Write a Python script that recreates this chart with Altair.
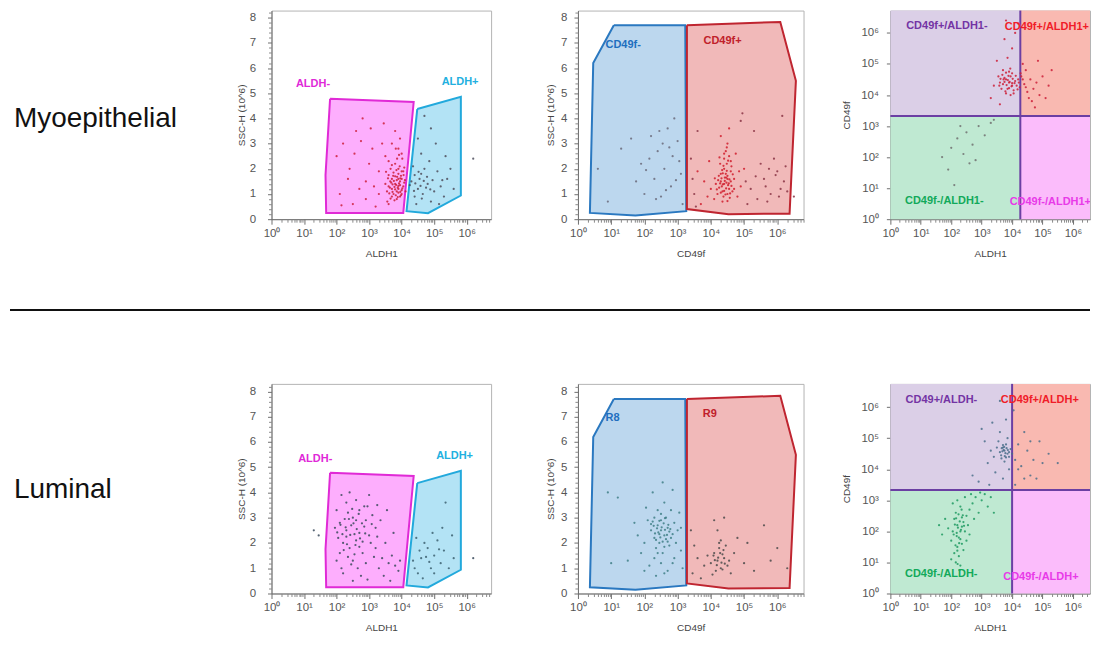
import altair as alt
import pandas as pd

FONT = "Liberation Sans"
FONT2 = "Liberation Sans"

row_labels = ["Myoepithelial", "Luminal"]

log_ticks = [1, 10, 100, 1000, 10000, 100000, 1000000]
lin_ticks = [0, 1, 2, 3, 4, 5, 6, 7, 8]
log_minor = [m * 10 ** k for k in range(7) for m in range(2, 10)]
lin_minor = [round(v * 0.2, 1) for v in range(42) if v % 5]
SUP = "['\u2070','\u00b9','\u00b2','\u00b3','\u2074','\u2075','\u2076','\u2077']"
LOG_LABEL = "'10' + " + SUP + "[round(log(datum.value) / LN10)]"

# ---------------- gates (x = log10 of intensity, y = SSC-H 10^6) -------------
gate_aldh_neg = [(1.80, 4.78), (4.37, 4.65), (4.05, 0.25), (1.68, 0.25), (1.66, 1.75), (1.80, 4.78)]
gate_aldh_pos = [(4.48, 4.37), (5.82, 4.86), (5.82, 0.94), (4.81, 0.24), (4.15, 0.32), (4.48, 4.37)]
gate_cd_neg = [(1.08, 7.70), (3.23, 7.70), (3.26, 0.32), (1.73, 0.15), (0.36, 0.25), (0.46, 6.20), (1.08, 7.70)]
gate_cd_pos = [(3.28, 7.70), (6.09, 7.83), (6.56, 5.49), (6.37, 0.22), (4.53, 0.20), (3.28, 0.40), (3.28, 7.70)]

# quadrant thresholds (log10 ALDH1, log10 CD49f)
quad_thr_top = (4.27, 3.32)
quad_thr_bottom = (4.00, 3.33)
quad_names = ["TL", "TR", "BL", "BR"]
quad_fill = ["#dbcfe7", "#f9b9b1", "#bfe9d2", "#fbbcfb"]

# ---------------- events (x = log10, y = SSC or log10 CD49f) ----------------
p1_top_red = [(3.9,1.2),(3.95,1.5),(3.8,1.4),(4.0,1.0),(3.85,1.1),(3.7,1.6),(3.9,1.8),(4.05,1.3),(3.75,1.0),
    (3.6,1.3),(3.95,0.9),(3.8,1.7),(4.0,1.6),(3.65,1.5),(3.9,2.0),(3.7,1.2),(3.85,0.8),(4.05,1.9),(3.55,1.1),
    (3.95,1.35),(3.75,1.85),(3.85,1.55),(4.0,1.15),(3.7,0.9),(3.6,1.75),(3.9,1.05),(3.8,2.2),(4.08,1.45),
    (3.5,1.4),(3.88,1.25),(3.72,1.38),(3.98,1.72),(3.82,0.95),(3.66,2.0),(4.02,2.4),(3.9,2.8),(3.95,3.2),
    (3.8,3.5),(4.0,2.6),(2.1,1.0),(2.4,2.0),(2.6,3.5),(2.9,1.5),(3.1,2.8),(2.2,3.0),(3.3,1.0),(2.5,0.6),
    (3.0,2.2),(2.8,4.0),(3.4,3.0),(2.0,2.5),(3.2,0.5),(2.7,1.2),(3.5,2.5),(2.35,1.6),(3.05,3.6),(2.55,2.6),
    (3.3,1.9),(2.9,0.8),(3.6,0.6),(2.15,0.55),(3.45,3.8),(2.75,3.1),(3.15,1.3),
    (3.92,1.42),(3.78,1.28),(3.86,1.68),(4.02,1.22),(3.68,1.45),(3.96,1.08),(3.74,1.72),(3.9,1.6),(4.1,1.55),
    (3.62,1.02),(3.84,1.95),(3.98,0.95),(3.58,1.62),(3.88,0.88),(4.12,1.1),(3.7,2.15),(3.94,2.1),(3.8,1.18),
    (3.66,0.82),(4.06,1.75),(3.76,1.52),(3.9,1.32),(3.52,1.88),(3.83,1.36),(4.0,1.9),(3.72,1.08),(3.6,2.3),
    (3.96,1.62),(3.86,2.4),(3.78,0.75),(4.08,2.05),(3.64,1.25),(3.92,2.55),(3.82,2.8),(3.7,3.0),(3.56,0.7)]
p1_top_dark = [(4.3,1.5),(4.5,1.2),(4.6,1.8),(4.4,0.9),(4.8,1.4),(5.0,1.1),(4.7,2.0),(4.55,1.6),(4.9,0.7),
    (5.2,1.3),(5.4,1.6),(4.35,2.1),(4.65,1.0),(5.1,1.9),(4.45,0.6),(4.85,2.3),(5.3,0.9),(4.75,1.25),(4.4,1.75),
    (5.5,2.0),(4.6,2.6),(5.05,3.0),(4.9,3.6),(4.7,4.1),(5.35,2.5),(4.5,3.2),(5.6,1.2),(4.25,1.35),(4.95,1.55),
    (5.15,0.6),(6.2,2.4),(4.42,1.42),(4.58,1.32),(4.68,1.52),(4.52,1.88),(4.38,1.12),(4.78,1.68),(4.88,1.18),
    (5.25,1.55),(4.62,0.82)]

p2_top_gray = [(0.6,2.0),(0.9,0.7),(1.3,2.8),(1.9,2.2),(2.0,1.0),(2.2,3.3),(2.3,1.6),(2.4,2.7),(2.5,0.9),
    (2.6,2.0),(2.7,3.6),(2.8,1.3),(2.85,2.5),(2.9,4.0),(3.0,3.1),(3.1,1.8),(2.45,3.5),(2.15,2.4),(2.65,1.15),
    (2.75,2.85),(2.35,0.8),(3.05,2.3),(1.75,1.5),(2.55,3.0),(3.15,0.6),(2.95,1.55),(2.05,1.95),(1.6,3.2)]
p2_top_red = [(4.4,1.4),(4.5,1.6),(4.35,1.1),(4.45,1.8),(4.55,1.2),(4.3,1.5),(4.6,1.5),(4.4,2.0),(4.5,1.0),
    (4.25,1.25),(4.42,1.65),(4.52,1.35),(4.38,0.9),(4.48,2.2),(4.6,1.9),(4.3,1.8),(4.2,1.0),(4.55,2.5),
    (4.45,2.7),(4.65,1.1),(4.35,0.7),(4.15,1.4),(4.7,1.6),(4.5,3.0),(4.4,2.4),(4.1,0.8),(4.0,1.2),(4.62,2.1),
    (4.28,2.2),(4.47,1.45),(4.33,1.3),(4.57,0.85),(3.9,0.9),(3.8,1.5),(3.7,0.6),(4.8,0.9),(4.9,1.3),(5.0,2.0),
    (3.6,1.9),(4.75,2.6),(4.55,3.6),(4.3,3.3),(3.95,2.3),(4.85,1.9),
    (4.42,1.52),(4.36,1.38),(4.5,1.72),(4.46,1.22),(4.32,1.62),(4.56,1.58),(4.4,1.12),(4.48,1.92),(4.28,1.42),
    (4.62,1.32),(4.38,2.12),(4.52,2.32),(4.44,0.98),(4.24,1.72),(4.58,1.02),(4.34,1.95),(4.66,1.78),
    (4.18,1.18),(4.48,2.85),(4.4,2.6),(4.54,1.42),(4.3,1.05),(4.46,1.65),(4.36,1.82),(4.6,2.3),(4.22,1.55),
    (4.5,0.72),(4.12,1.62),(4.7,1.2),(4.26,2.45)]
p2_top_dark = [(3.5,1.0),(3.4,2.4),(3.6,3.5),(5.2,1.2),(5.4,0.8),(5.6,1.6),(5.8,1.0),(6.0,1.9),(6.1,1.2),
    (5.9,2.4),(5.5,2.2),(5.3,3.5),(5.7,0.7),(6.2,1.5),(5.1,0.6),(4.9,3.9),(5.95,1.75),(6.05,0.9),(5.65,1.3),
    (5.35,1.7),(6.3,1.1),(3.45,1.6),(5.75,2.0),(6.25,2.1),(4.95,4.2),(6.15,4.1),(3.55,0.5),(5.05,1.5),(6.5,0.9)]

p3_top_red = [(3.9,4.4),(3.8,4.5),(4.0,4.3),(3.7,4.35),(3.95,4.6),(3.85,4.2),(4.1,4.45),(3.75,4.55),
    (4.05,4.15),(3.6,4.4),(3.9,4.75),(4.15,4.3),(3.65,4.2),(3.8,4.05),(4.0,4.7),(3.55,4.6),(4.2,4.5),(3.7,4.8),
    (3.95,4.0),(4.25,4.25),(4.3,4.6),(4.4,4.35),(4.5,4.1),(4.6,4.5),(4.7,4.2),(4.55,3.9),(4.8,4.4),(4.9,4.0),
    (5.0,4.6),(5.2,4.3),(4.45,4.8),(4.65,3.8),(5.1,3.9),(4.35,5.0),(3.85,5.2),(4.0,5.5),(3.75,5.8),(4.1,6.0),
    (3.5,5.1),(3.4,4.3),(3.3,3.9),(4.85,5.1),(5.3,4.8),(4.75,3.6),(3.6,3.7),(3.8,6.4),(4.2,6.3),
    (3.92,4.42),(3.82,4.32),(4.02,4.52),(3.72,4.5),(3.88,4.62),(3.98,4.28),(4.12,4.62),(3.78,4.12),(4.08,4.38),
    (3.62,4.52),(3.86,4.48),(4.18,4.18),(3.68,4.65),(3.94,4.85),(4.22,4.4),(3.58,4.3),(4.28,4.7),(3.8,4.72),
    (4.05,4.05),(3.75,4.42),(4.35,4.5),(4.45,4.25),(3.9,4.22),(4.0,4.38)]
p3_top_gray = [(2.0,2.3),(2.2,2.6),(2.4,2.1),(2.5,2.8),(2.7,2.4),(2.9,3.0),(3.1,2.7),(3.3,3.1),(2.6,1.8),
    (1.9,1.6),(2.3,3.0),(2.8,1.9),(3.4,3.2),(1.7,2.0),(2.1,1.1)]

p1_bot_neg = [(2.1,2.8),(2.3,2.5),(2.5,3.0),(2.2,2.0),(2.7,2.4),(2.4,1.8),(2.9,2.9),(2.6,2.1),(2.0,3.3),
    (2.8,1.6),(3.0,2.3),(2.3,3.6),(2.5,1.3),(2.15,1.0),(3.2,2.6),(2.7,3.3),(3.4,1.4),(2.45,2.7),(2.05,2.2),
    (2.9,1.2),(3.1,3.1),(2.35,1.45),(3.5,2.0),(2.6,3.7),(2.2,0.8),(3.3,1.0),(2.75,0.7),(3.6,1.2),(3.8,1.1),
    (3.9,0.9),(3.7,1.5),(3.2,1.8),(2.55,2.35),(2.85,2.65),(2.1,1.6),(2.4,4.0),(3.0,3.9),(2.65,1.0),(3.35,2.9),
    (2.0,1.3),(3.55,3.3),(2.95,0.55),(2.25,2.95),(2.5,0.5),(3.15,1.45),(2.8,2.05),(3.75,2.4),(2.3,2.25),
    (2.6,2.9),(3.45,0.7),(3.95,1.3),(2.7,1.85),(2.15,3.9),(3.05,2.0),(2.45,1.15),(1.95,2.6),(3.25,3.5),
    (2.85,3.45),(2.35,3.2),(3.65,0.5),(1.3,2.5),(1.45,2.3),(6.2,1.4),
    (2.28,2.62),(2.52,2.78),(2.42,2.32),(2.62,2.55),(2.18,2.35),(2.72,2.18),(2.38,2.95),(2.58,1.92),
    (2.88,2.38),(2.12,2.72),(2.48,3.35),(2.78,2.78),(2.32,1.95),(2.68,3.15),(2.22,1.72),(3.08,2.75),
    (2.95,3.45),(2.55,1.55),(3.25,2.25),(2.02,2.42)]
p1_bot_pos = [(4.4,1.0),(4.6,1.4),(4.8,1.8),(5.0,1.5),(4.5,0.8),(5.2,1.2),(4.9,1.0),(4.7,2.0),(5.3,1.7),
    (4.35,1.3),(5.1,2.1),(4.65,0.6),(5.45,1.0),(4.85,1.25),(5.55,2.3),(4.55,1.7),(5.0,0.8),(5.25,2.6),
    (4.45,2.2),(5.35,3.6),(4.75,1.45),(5.15,1.75),(4.95,2.4),(5.6,1.4)]

p2_bot_neg = [(2.5,2.5),(2.4,2.7),(2.6,2.3),(2.3,2.2),(2.7,2.6),(2.5,2.9),(2.2,2.5),(2.8,2.2),(2.45,2.0),
    (2.65,3.0),(2.35,1.8),(2.55,1.6),(2.9,2.8),(2.1,2.9),(2.75,1.9),(2.0,2.0),(3.0,2.5),(2.4,3.3),(2.6,3.6),
    (2.3,1.4),(2.8,3.3),(2.15,1.1),(2.5,1.2),(2.7,0.9),(1.9,1.6),(2.05,3.4),(3.1,1.7),(2.95,2.0),(2.25,4.0),
    (2.55,4.4),(2.85,4.1),(1.8,2.3),(3.05,3.2),(2.35,0.7),(2.6,0.8),(1.5,1.3),(1.2,3.8),(1.0,1.2),(0.9,4.0),
    (3.15,1.0),(2.45,2.35),(2.65,2.15),(2.2,2.75),(2.75,2.45),(2.4,1.6),(2.9,1.4),(1.7,2.8),(3.1,2.6),
    (2.0,0.9),(2.3,3.0),(2.85,1.2),
    (2.52,2.62),(2.42,2.42),(2.62,2.52),(2.38,2.58),(2.58,2.78),(2.48,2.22),(2.72,2.72),(2.32,2.38),
    (2.68,2.32),(2.55,2.05),(2.45,2.88),(2.78,2.55),(2.28,2.68),(2.62,2.98),(2.35,2.12),(2.85,2.35),
    (2.5,3.15),(2.7,2.05),(2.25,2.85),(2.6,1.85)]
p2_bot_pos = [(4.2,1.3),(4.3,1.0),(4.1,1.6),(4.4,1.4),(4.25,1.8),(4.5,1.1),(4.0,1.2),(4.35,1.55),(4.15,0.9),
    (4.45,1.9),(3.9,1.5),(4.55,1.3),(4.05,0.75),(4.3,2.1),(3.8,1.1),(4.6,0.8),(3.7,0.6),(3.6,1.4),(4.7,1.6),
    (4.2,2.5),(4.4,3.0),(3.5,1.9),(5.0,1.2),(5.3,0.9),(5.6,2.7),(5.8,1.3),(6.3,1.0),(4.8,2.2),(3.45,0.8),
    (4.1,2.9),(5.1,2.0),(6.0,1.8),(3.4,2.5),(4.22,1.42),(4.32,1.22),(4.12,1.32),(4.38,1.72),(4.28,1.6),
    (4.18,1.12),(4.42,1.18),(4.08,1.5),(4.35,0.95),(4.25,2.0)]

p3_bot_tl = [(3.75,4.6),(3.7,4.7),(3.85,4.5),(3.6,4.55),(3.8,4.8),(3.9,4.4),(3.65,4.35),(3.95,4.65),(3.5,4.7),
    (3.75,4.25),(4.0,4.5),(3.55,4.9),(3.4,4.4),(3.85,5.0),(4.1,4.3),(3.3,4.6),(3.6,5.2),(3.9,4.0),(4.2,4.8),
    (3.2,4.2),(3.45,3.9),(3.7,3.7),(3.1,4.9),(3.0,5.3),(3.35,5.5),(3.8,5.6),(4.05,5.9),(3.6,6.2),(2.9,3.6),
    (4.3,4.1),(4.5,4.6),(4.7,4.3),(4.6,3.8),(4.9,4.9),(5.2,4.5),(4.4,5.2),(4.8,3.7),(5.5,4.2),(3.25,3.5),
    (2.7,3.8),(4.2,4.0),(4.4,3.7),(4.6,4.9),(4.1,3.5),(5.0,4.2),
    (3.72,4.62),(3.78,4.52),(3.82,4.68),(3.68,4.58),(3.76,4.42),(3.86,4.62),(3.7,4.78),(3.64,4.45),
    (3.8,4.38),(3.74,4.72),(3.9,4.55),(3.66,4.68)]
p3_bot_bl = [(2.2,2.2),(2.3,2.0),(2.1,2.4),(2.25,1.8),(2.4,2.3),(2.15,2.6),(2.35,1.6),(2.05,2.0),(2.5,2.5),
    (2.2,1.5),(2.45,2.0),(2.3,2.8),(2.0,1.7),(2.6,2.7),(2.1,1.3),(2.25,1.2),(2.7,2.9),(2.8,3.1),(2.55,2.2),
    (2.35,2.45),(1.9,2.1),(1.8,2.4),(2.65,3.2),(2.9,2.6),(3.0,3.0),(3.1,3.2),(2.4,1.4),(2.15,1.0),(2.3,0.9),
    (1.7,1.9),(2.5,1.7),(2.75,2.4),(3.2,2.8),(3.3,3.1),(2.05,2.9),(2.6,1.9),(2.2,3.0),(3.4,2.6),(1.6,2.2),
    (2.45,3.1),(2.95,3.25),(2.0,1.1),(2.35,2.15),(2.18,1.95),
    (2.22,2.12),(2.28,2.32),(2.18,1.85),(2.32,2.05),(2.12,2.22),(2.26,1.62),(2.38,2.52),(2.16,2.42),
    (2.3,1.75),(2.24,2.55),(2.08,1.9),(2.42,2.18),(2.2,1.38),(2.34,2.7),(2.14,1.55),(2.27,0.75),(2.21,0.95)]

# gate / quadrant label texts: (text, log10 x, y, colour)
p1_top_text = [("ALDH-", 0.75, 5.35, "#e028d8"), ("ALDH+", 5.23, 5.43, "#22b0e0")]
p2_top_text = [("CD49f-", 0.83, 6.93, "#1f6fbf"), ("CD49f+", 3.78, 7.06, "#c0202a")]
p3_top_text = [("CD49f+/ALDH1-", 0.52, 6.22, "#7434a4"), ("CD49f+/ALDH1+", 3.76, 6.19, "#f01c28"),
               ("CD49f-/ALDH1-", 0.48, 0.59, "#12a95a"), ("CD49f-/ALDH1+", 3.92, 0.56, "#e83ae8")]
p1_bot_text = [("ALDH-", 0.82, 5.34, "#e028d8"), ("ALDH+", 5.06, 5.43, "#22b0e0")]
p2_bot_text = [("R8", 0.83, 6.95, "#1f6fbf"), ("R9", 3.76, 7.10, "#c0202a")]
p3_bot_text = [("CD49+/ALDH-", 0.50, 6.22, "#7434a4"), ("CD49f+/ALDH+", 3.63, 6.22, "#f01c28"),
               ("CD49f-/ALDH-", 0.48, 0.64, "#12a95a"), ("CD49f-/ALDH+", 3.71, 0.53, "#e83ae8")]

AX = dict(grid=False, domainColor="#6e6e6e", tickColor="#6e6e6e", labelColor="#555555",
          labelFont=FONT2, labelFontSize=11.5, titleFont=FONT2, titleFontSize=10,
          titleFontWeight="normal", titleColor="#444444", labelFlush=False, labelOverlap=False)


def x_major(title):
    return alt.Axis(values=log_ticks, labelExpr=LOG_LABEL, title=title, tickSize=5,
                    labelPadding=3, titlePadding=10, **AX)


def y_lin(title, lp, tp):
    return alt.Axis(values=lin_ticks, title=title, tickSize=4, labelPadding=lp, titlePadding=tp, **AX)


def y_log(title):
    return alt.Axis(values=log_ticks, labelExpr=LOG_LABEL, title=title, tickSize=4,
                    labelPadding=8, titlePadding=9, **AX)


def minor_axis(vals, orient):
    return alt.Axis(values=vals, labels=False, domain=False, tickSize=3, title=None, grid=False,
                    orient=orient, tickColor="#8a8a8a")


def pts_df(pts):
    return pd.DataFrame({"i": list(range(len(pts))), "lx": [p[0] for p in pts], "ly": [p[1] for p in pts]})


def txt_df(items):
    return pd.DataFrame({"t": [a[0] for a in items], "lx": [a[1] for a in items],
                         "ly": [a[2] for a in items], "c": [a[3] for a in items]})


def ssc_panel(width, height, xmax, ymax, xtitle, gates, points, texts, lp, tp):
    xs = alt.Scale(type="log", domain=[1, 10 ** xmax], nice=False)
    ys = alt.Scale(type="linear", domain=[0, ymax], nice=False, zero=False)
    layers = []
    for k, (g, fill, stroke) in enumerate(gates):
        layers.append(
            alt.Chart(pts_df(g)).mark_line(fill=fill, stroke=stroke, strokeWidth=2, strokeJoin="miter")
            .transform_calculate(x="pow(10, datum.lx)")
            .encode(x=alt.X("x:Q", scale=xs, axis=x_major(xtitle) if k == 0 else None),
                    y=alt.Y("ly:Q", scale=ys, axis=y_lin("SSC-H (10^6)", lp, tp) if k == 0 else None),
                    order="i:Q"))
    for p, col in points:
        layers.append(
            alt.Chart(pts_df(p)).mark_circle(size=5, opacity=0.85, color=col)
            .transform_calculate(x="pow(10, datum.lx)")
            .encode(x=alt.X("x:Q", scale=xs, axis=None), y=alt.Y("ly:Q", scale=ys, axis=None)))
    layers.append(
        alt.Chart(txt_df(texts)).mark_text(align="left", baseline="middle", font=FONT, fontSize=11,
                                           fontWeight="bold")
        .transform_calculate(x="pow(10, datum.lx)")
        .encode(x=alt.X("x:Q", scale=xs, axis=None), y=alt.Y("ly:Q", scale=ys, axis=None),
                text="t:N", color=alt.Color("c:N", scale=None)))
    xm = [v for v in log_minor if v < 10 ** xmax]
    ym = [v for v in lin_minor if v < ymax]
    layers.append(
        alt.Chart(pts_df(gates[0][0])).mark_point(opacity=0)
        .transform_calculate(x="pow(10, datum.lx)")
        .encode(x=alt.X("x:Q", scale=xs, axis=minor_axis(xm, "bottom")),
                y=alt.Y("ly:Q", scale=ys, axis=minor_axis(ym, "left"))))
    return alt.layer(*layers).resolve_axis(x="independent", y="independent").properties(
        width=width, height=height)


def quad_panel(width, height, xmax, ymax, thr, points, texts):
    xs = alt.Scale(type="log", domain=[1, 10 ** xmax], nice=False)
    ys = alt.Scale(type="log", domain=[1, 10 ** ymax], nice=False)
    tx, ty = thr
    qdf = pd.DataFrame({"q": quad_names,
                        "lx1": [0, tx, 0, tx], "lx2": [tx, xmax, tx, xmax],
                        "ly1": [ty, ty, 0, 0], "ly2": [ymax, ymax, ty, ty]})
    calc = dict(x1="pow(10, datum.lx1)", x2="pow(10, datum.lx2)",
                y1="pow(10, datum.ly1)", y2="pow(10, datum.ly2)")
    layers = [
        alt.Chart(qdf).mark_rect(stroke=None).transform_calculate(**calc).encode(
            x=alt.X("x1:Q", scale=xs, axis=x_major("ALDH1")), x2="x2:Q",
            y=alt.Y("y1:Q", scale=ys, axis=y_log("CD49f")), y2="y2:Q",
            color=alt.Color("q:N", scale=alt.Scale(domain=quad_names, range=quad_fill), legend=None))
    ]
    ldf = pd.DataFrame({"lx1": [tx, 0], "lx2": [tx, xmax], "ly1": [0, ty], "ly2": [ymax, ty]})
    layers.append(
        alt.Chart(ldf).mark_rule(color="#6b3fa3", strokeWidth=2).transform_calculate(**calc).encode(
            x=alt.X("x1:Q", scale=xs, axis=None), x2="x2:Q",
            y=alt.Y("y1:Q", scale=ys, axis=None), y2="y2:Q"))
    for p, col in points:
        layers.append(
            alt.Chart(pts_df(p)).mark_circle(size=5, opacity=0.85, color=col)
            .transform_calculate(x="pow(10, datum.lx)", y="pow(10, datum.ly)")
            .encode(x=alt.X("x:Q", scale=xs, axis=None), y=alt.Y("y:Q", scale=ys, axis=None)))
    layers.append(
        alt.Chart(txt_df(texts)).mark_text(align="left", baseline="middle", font=FONT, fontSize=11,
                                           fontWeight="bold", clip=True)
        .transform_calculate(x="pow(10, datum.lx)", y="pow(10, datum.ly)")
        .encode(x=alt.X("x:Q", scale=xs, axis=None), y=alt.Y("y:Q", scale=ys, axis=None),
                text="t:N", color=alt.Color("c:N", scale=None)))
    xm = [v for v in log_minor if v < 10 ** xmax]
    layers.append(
        alt.Chart(qdf).mark_point(opacity=0).transform_calculate(**calc)
        .encode(x=alt.X("x1:Q", scale=xs, axis=minor_axis(xm, "bottom")),
                y=alt.Y("y1:Q", scale=ys, axis=None)))
    return alt.layer(*layers).resolve_axis(x="independent", y="independent").properties(
        width=width, height=height)


def label_panel(text, height, yc, with_rule):
    base = alt.Chart(pd.DataFrame({"t": [text]}))
    layers = [base.mark_text(align="left", baseline="middle", font=FONT, fontSize=28, color="#111111")
              .encode(x=alt.value(4), y=alt.value(yc), text="t:N")]
    if with_rule:
        layers.append(base.mark_rule(color="#111111", strokeWidth=2)
                      .encode(x=alt.value(0), x2=alt.value(1082), y=alt.value(300)))
    return alt.layer(*layers).properties(width=175, height=height,
                                         view=alt.ViewBackground(stroke="transparent"))


H0, H1 = 209, 210
W1, W2, W3 = 220, 226, 200

lab0 = label_panel(row_labels[0], H0, 109, True)
lab1 = label_panel(row_labels[1], H1, 106, False)

p1t = ssc_panel(W1, H0, 6.75, 8.28, "ALDH1",
                [(gate_aldh_neg, "#fdaefd", "#e02ad6"), (gate_aldh_pos, "#b3e3f5", "#22a9dc")],
                [(p1_top_red, "#cc1f3a"), (p1_top_dark, "#4d4d5c")], p1_top_text, 12, 3)
p2t = ssc_panel(W2, H0, 6.79, 8.28, "CD49f",
                [(gate_cd_neg, "#bcd7ee", "#2a78c0"), (gate_cd_pos, "#f1b9b9", "#bf2530")],
                [(p2_top_gray, "#6a6a7a"), (p2_top_red, "#d01c2c"), (p2_top_dark, "#8a3444")],
                p2_top_text, 7, 5)
p3t = quad_panel(W3, H0, 6.56, 6.72, quad_thr_top,
                 [(p3_top_red, "#cc2038"), (p3_top_gray, "#707070")], p3_top_text)

p1b = ssc_panel(W1, H1, 6.75, 8.3, "ALDH1",
                [(gate_aldh_neg, "#fdaefd", "#e02ad6"), (gate_aldh_pos, "#b3e3f5", "#22a9dc")],
                [(p1_bot_neg, "#3a4a5c"), (p1_bot_pos, "#3c6070")], p1_bot_text, 12, 3)
p2b = ssc_panel(W2, H1, 6.79, 8.3, "CD49f",
                [(gate_cd_neg, "#bcd7ee", "#2a78c0"), (gate_cd_pos, "#f1b9b9", "#bf2530")],
                [(p2_bot_neg, "#3f7f86"), (p2_bot_pos, "#4a4a4a")], p2_bot_text, 7, 5)
p3b = quad_panel(W3, H1, 6.56, 6.75, quad_thr_bottom,
                 [(p3_bot_tl, "#4a6e8a"), (p3_bot_bl, "#1f9a62")], p3_bot_text)

chart = alt.concat(lab0, p1t, p2t, p3t, lab1, p1b, p2b, p3b, columns=4,
                   spacing={"row": 165, "column": 87}, bounds="flush").properties(
    padding={"left": 0, "top": 0, "right": 0, "bottom": 0}
).configure_view(stroke="#b4b4b4")

chart.save("out.html", embed_options={"renderer": "svg", "actions": False})
